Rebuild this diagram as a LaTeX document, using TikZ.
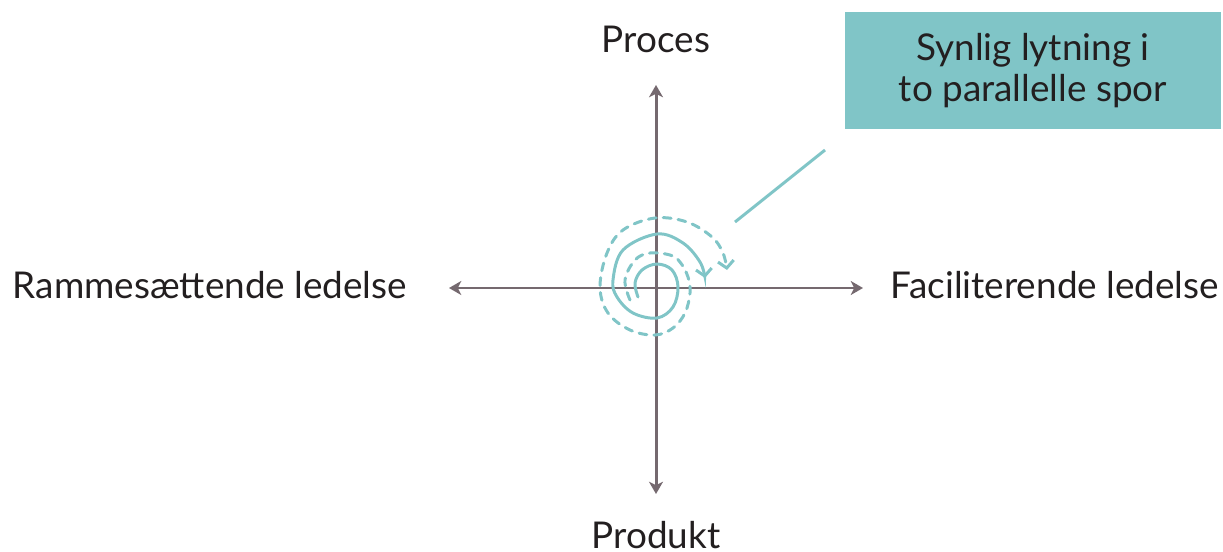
\documentclass[tikz,border=0pt]{standalone}
\usepackage{fontspec}
\usepackage{xcolor}
\setmainfont{Lato}
\usetikzlibrary{arrows.meta}
\definecolor{aksegraa}{HTML}{75696F}
\definecolor{turkis}{HTML}{80C5C7}
\definecolor{tekst}{HTML}{231F20}

\begin{document}
\begin{tikzpicture}[x=0.02cm, y=-0.02cm, every node/.style={font=\fontsize{21}{23}\selectfont,
      text=tekst, anchor=base}, akse/.style={draw=aksegraa, line width=1.7pt,
      {Stealth[length=7pt,width=8pt,inset=2pt]}-{Stealth[length=7pt,width=8pt,inset=2pt]}},
      spor/.style={draw=turkis, line width=1.7pt, line cap=round,
      -{Straight Barb[length=4pt,width=9pt]}} ]
          \useasboundingbox (0,0) rectangle (1223,551);
          % akserne
          \coordinate (top) at (656,85);
          \coordinate (bund) at (656,494);
          \coordinate (venstre) at (449,288);
          \coordinate (hoejre) at (863,288);
          \draw[akse] (top) -- (bund);
          \draw[akse] (venstre) -- (hoejre);
          \node (proces) at (656,52.5) {Proces};
          \node (produkt) at (656,548.5) {Produkt};
          \node (ramme) at (210,298.5) {Rammesættende ledelse};
          \node (facil) at (1055,298.5) {Faciliterende ledelse};
          % boksen
          \node[fill=turkis, minimum width=376*0.02cm, minimum height=117*0.02cm,
            align=center, anchor=center] (boks) at (1033,70.5)
            {Synlig lytning i\\to parallelle spor};
          \coordinate (streg1) at (735,222);
          \coordinate (streg2) at (825,150);
          \draw[turkis, line width=1.7pt] (streg1) -- (streg2);
          % spiralerne
          \draw[spor] plot[smooth, tension=0.6] coordinates {(638,297) (635,283)
            (642,270) (657,264) (672,270) (678,287) (673,307) (657,318)
            (633,313) (617,297) (613,280) (623,250) (657,234) (683,243)
            (700,262) (705,278)};
          \draw[spor, dash pattern=on 4.5pt off 4pt] plot[smooth, tension=0.6]
            coordinates {(630,300) (625,280) (635,260) (650,253) (670,255)
            (680,262) (688,277) (690,293) (685,313) (673,328) (655,335)
            (630,330) (608,313) (600,287) (607,253) (623,230) (655,218)
            (687,222) (712,237) (723,253) (727,270)};
        \end{tikzpicture}
\end{document}
